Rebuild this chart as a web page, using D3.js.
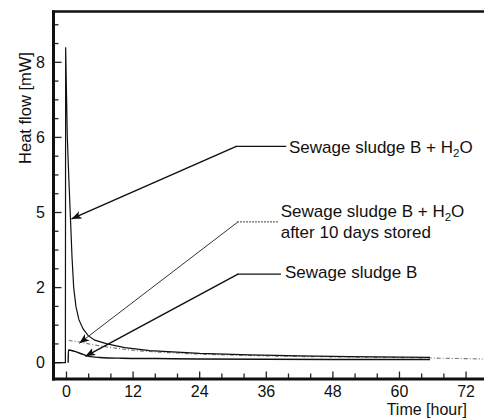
<!DOCTYPE html>
<html><head><meta charset="utf-8">
<script src="https://cdn.jsdelivr.net/npm/d3@7"></script>
<style>html,body{margin:0;padding:0;background:#fff;}svg{display:block;}</style>
</head><body><svg id="c" width="484" height="420"></svg>
<script>
// ---- data ----
const timeMain = [-2.05, -0.2, -0.15, 0.15, 0.4, 0.7, 1.0, 1.3, 1.7, 2.25, 3.0, 3.9, 5.1, 7.3, 10.5, 15, 24, 33, 42, 51, 65.5];
const heatMain = [0, 0, 8.4, 6.0, 5.0, 3.9, 2.8, 2.0, 1.5, 1.14, 0.9, 0.72, 0.6, 0.5, 0.4, 0.32, 0.25, 0.21, 0.18, 0.16, 0.14];
const timeStored = [0.4, 1, 2.4, 5.1, 7.3, 11.4, 16.8, 24, 33, 42, 51, 65.5, 75];
const heatStored = [0.6, 0.58, 0.55, 0.47, 0.42, 0.34, 0.28, 0.23, 0.19, 0.165, 0.15, 0.125, 0.1];
const timeDry = [0.3, 0.35, 1.5, 3, 4, 6, 10, 16, 24, 36, 48, 65.5];
const heatDry = [0, 0.34, 0.3, 0.22, 0.17, 0.14, 0.12, 0.11, 0.1, 0.09, 0.085, 0.085];
const xTickValues = [0, 12, 24, 36, 48, 60, 72];
const yTickValues = [0, 2, 4, 6, 8];
const yTickLabels = ["0", "2", "5", "6", "8"];
const labelMain = "Sewage sludge B + H";
const labelStored2 = "after 10 days stored";
const labelDry = "Sewage sludge B";
const xTitle = "Time [hour]";
const yTitle = "Heat flow [mW]";

const svg = d3.select("#c");
const FONT = "'Liberation Sans', Arial, Helvetica, sans-serif";
const x = d3.scaleLinear().domain([-2.34, 75.23]).range([53.5, 484]);
const y = d3.scaleLinear().domain([-0.434, 9.353]).range([379, 11.5]);

// defs arrow
const defs = svg.append("defs");
defs.append("marker").attr("id","ah").attr("viewBox","0 0 10 8").attr("refX",10).attr("refY",4)
  .attr("markerWidth",10).attr("markerHeight",8).attr("markerUnits","userSpaceOnUse").attr("orient","auto")
  .append("path").attr("d","M0,0 L10,4 L0,8 L2.5,4 z").attr("fill","#111");

// axes frame
const [x0, x1] = x.range();
const [yb, yt] = y.range();
const yMinor = d3.range(0, 9.01, 0.5);
svg.append("g").selectAll("line").data(yMinor).join("line")
  .attr("x1", x0).attr("x2", d => x0 + (yTickValues.includes(d) ? 8 : 5))
  .attr("y1", d => y(d)).attr("y2", d => y(d)).attr("stroke","#222").attr("stroke-width",1.3);
const xMinor = d3.range(0, 72.01, 4);
svg.append("g").selectAll("line").data(xMinor).join("line")
  .attr("x1", d => x(d)).attr("x2", d => x(d))
  .attr("y1", yb).attr("y2", d => yb - (xTickValues.includes(d) ? 7.5 : 5.5)).attr("stroke","#222").attr("stroke-width",1.3);

svg.append("line").attr("x1",x0).attr("x2",x0).attr("y1",yt-1).attr("y2",yb+1.5).attr("stroke","#111").attr("stroke-width",3);
svg.append("line").attr("x1",x0-1.5).attr("x2",x1).attr("y1",yb).attr("y2",yb).attr("stroke","#111").attr("stroke-width",3);
svg.append("line").attr("x1",x0-1.5).attr("x2",x1).attr("y1",yt).attr("y2",yt).attr("stroke","#111").attr("stroke-width",2.5);

// tick labels
svg.append("g").selectAll("text").data(yTickValues).join("text")
  .attr("x", 45).attr("y", d => y(d)).attr("dy","0.36em").attr("text-anchor","end")
  .attr("font-family",FONT).attr("font-size",16).attr("fill","#111")
  .text((d,i) => yTickLabels[i]);
svg.append("g").selectAll("text").data(xTickValues).join("text")
  .attr("x", d => x(d)).attr("y", 396.5).attr("text-anchor","middle")
  .attr("font-family",FONT).attr("font-size",16).attr("fill","#111")
  .text(d => d);
svg.append("text").attr("x",467).attr("y",414.5).attr("text-anchor","end")
  .attr("font-family",FONT).attr("font-size",16).attr("fill","#111").text(xTitle);
svg.append("text").attr("transform","translate(31,108) rotate(-90)").attr("text-anchor","middle")
  .attr("font-family",FONT).attr("font-size",16.5).attr("fill","#111").text(yTitle);

// series
const line = d3.line().x(d => x(d[0])).y(d => y(d[1])).curve(d3.curveMonotoneX);
const zip = (a,b) => a.map((t,i)=>[t,b[i]]);
svg.append("path").attr("d", line(zip(timeStored, heatStored))).attr("fill","none")
  .attr("stroke","#777").attr("stroke-width",1.1).attr("stroke-dasharray","4,2,1,2");
svg.append("path").attr("d", line(zip(timeDry, heatDry))).attr("fill","none")
  .attr("stroke","#111").attr("stroke-width",1.4);
svg.append("path").attr("d", d3.line().x(d => x(d[0])).y(d => y(d[1])).curve(d3.curveLinear)(zip(timeMain, heatMain))).attr("fill","none")
  .attr("stroke","#111").attr("stroke-width",1.2);

// annotations (data coordinates)
const notes = [
  {tip:[0.9,3.83], elbow:[30.6,5.76], end:[39.6,5.76], color:"#111", w:1.5, hdash:null},
  {tip:[2.31,0.517], elbow:[30.9,3.75], end:[38.1,3.75], color:"#333", w:1, hdash:"2,1"},
  {tip:[3.4,0.17], elbow:[30.9,2.36], end:[38.65,2.36], color:"#111", w:1.5, hdash:null}
];
notes.forEach(n => {
  svg.append("line").attr("x1",x(n.elbow[0])).attr("y1",y(n.elbow[1])).attr("x2",x(n.tip[0])).attr("y2",y(n.tip[1]))
    .attr("stroke",n.color).attr("stroke-width",n.w).attr("marker-end","url(#ah)");
  svg.append("line").attr("x1",x(n.elbow[0])-1).attr("y1",y(n.elbow[1])).attr("x2",x(n.end[0])).attr("y2",y(n.end[1]))
    .attr("stroke", n.hdash ? "#666" : n.color).attr("stroke-width",1.2).attr("stroke-dasharray", n.hdash);
});

function h2oLabel(xp, yp) {
  const t = svg.append("text").attr("x",xp).attr("y",yp).attr("font-family",FONT).attr("font-size",17).attr("fill","#111");
  t.append("tspan").text(labelMain);
  t.append("tspan").attr("font-size",11.5).attr("dy",4).text("2");
  t.append("tspan").attr("dy",-4).text("O");
}
h2oLabel(289, 152.5);
h2oLabel(280.7, 217);
svg.append("text").attr("x",280.7).attr("y",237.5).attr("font-family",FONT).attr("font-size",17).attr("fill","#111").text(labelStored2);
svg.append("text").attr("x",285).attr("y",278.3).attr("font-family",FONT).attr("font-size",17).attr("fill","#111").text(labelDry);
</script></body></html>
